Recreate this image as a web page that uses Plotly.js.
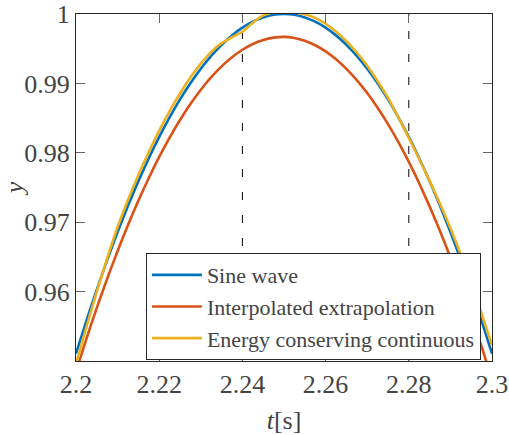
<!DOCTYPE html>
<html>
<head>
<meta charset="utf-8">
<script src="https://cdn.plot.ly/plotly-3.0.1.min.js"></script>
<style>
  html, body { margin: 0; padding: 0; background: #ffffff; }
  #chart { width: 509px; height: 435px; }
</style>
</head>
<body>
<div id="chart"></div>
<script>
// time samples [s]
const time = [
  2.2000, 2.2025, 2.2050, 2.2075, 2.2100, 2.2125, 2.2150, 2.2175, 2.2200, 2.2225,
  2.2250, 2.2275, 2.2300, 2.2325, 2.2350, 2.2375, 2.2400, 2.2425, 2.2450, 2.2475,
  2.2500, 2.2525, 2.2550, 2.2575, 2.2600, 2.2625, 2.2650, 2.2675, 2.2700, 2.2725,
  2.2750, 2.2775, 2.2800, 2.2825, 2.2850, 2.2875, 2.2900, 2.2925, 2.2950, 2.2975,
  2.3000
];

// Sine wave
const sineWave = [
  0.95106, 0.95579, 0.96029, 0.96456, 0.96858, 0.97237, 0.97592, 0.97922, 0.98229, 0.98511,
  0.98769, 0.99002, 0.99211, 0.99396, 0.99556, 0.99692, 0.99803, 0.99889, 0.99951, 0.99988,
  1.00000, 0.99988, 0.99951, 0.99889, 0.99803, 0.99692, 0.99556, 0.99396, 0.99211, 0.99002,
  0.98769, 0.98511, 0.98229, 0.97922, 0.97592, 0.97237, 0.96858, 0.96456, 0.96029, 0.95579,
  0.95106
];

// Interpolated extrapolation
const interpExtrap = [
  0.94849, 0.95318, 0.95765, 0.96187, 0.96585, 0.96960, 0.97311, 0.97637, 0.97940, 0.98218,
  0.98472, 0.98702, 0.98908, 0.99089, 0.99246, 0.99377, 0.99485, 0.99568, 0.99626, 0.99660,
  0.99670, 0.99655, 0.99615, 0.99550, 0.99462, 0.99348, 0.99210, 0.99047, 0.98861, 0.98649,
  0.98413, 0.98153, 0.97869, 0.97561, 0.97228, 0.96872, 0.96492, 0.96088, 0.95660, 0.95209,
  0.94733
];

// Energy conserving continuous
const energyCons = [
  0.94960, 0.95490, 0.96000, 0.96480, 0.96930, 0.97320, 0.97680, 0.98010, 0.98320, 0.98600,
  0.98855, 0.99085, 0.99285, 0.99455, 0.99580, 0.99665, 0.99745, 0.99875, 0.99980, 1.00025,
  1.00035, 1.00025, 0.99995, 0.99945, 0.99860, 0.99748, 0.99610, 0.99445, 0.99255, 0.99035,
  0.98790, 0.98510, 0.98215, 0.97910, 0.97595, 0.97265, 0.96915, 0.96535, 0.96125, 0.95685,
  0.95225
];

const seriesNames = ['Sine wave', 'Interpolated extrapolation', 'Energy conserving continuous'];
const seriesColors = ['#0072BD', '#D95319', '#EDB120'];

// vertical dashed marker times
const markerTimes = [2.24, 2.28];

// tick labels
const xTickVals = [2.2, 2.22, 2.24, 2.26, 2.28, 2.3];
const xTickText = ['2.2', '2.22', '2.24', '2.26', '2.28', '2.3'];
const yTickVals = [0.96, 0.97, 0.98, 0.99, 1];
const yTickText = ['0.96', '0.97', '0.98', '0.99', '1'];

const seriesData = [sineWave, interpExtrap, energyCons];
const traces = seriesData.map((ys, i) => ({
  type: 'scatter',
  mode: 'lines',
  x: time,
  y: ys,
  name: seriesNames[i],
  line: { color: seriesColors[i], width: 2.6, shape: 'spline', smoothing: 0.6 }
}));

const shapes = markerTimes.map(t => ({
  type: 'line', xref: 'x', yref: 'paper',
  x0: t, x1: t, y0: 0, y1: 1,
  line: { color: '#000000', width: 1, dash: '8px,15px' },
  layer: 'below'
}));

const layout = {
  width: 509, height: 435,
  margin: { l: 76, r: 17, t: 14, b: 74 },
  paper_bgcolor: '#ffffff', plot_bgcolor: '#ffffff',
  showlegend: true,
  legend: {
    x: 0.168, y: 0.311, xanchor: 'left', yanchor: 'top',
    bgcolor: '#ffffff', bordercolor: '#262626', borderwidth: 1,
    font: { family: 'Liberation Serif', size: 22 },
    itemwidth: 50
  },
  xaxis: {
    range: [2.2, 2.3],
    tickmode: 'array', tickvals: xTickVals, ticktext: xTickText,
    ticks: 'inside', ticklen: 9, tickcolor: '#666666', tickwidth: 1,
    showline: true, linecolor: '#262626', linewidth: 1, mirror: 'ticks',
    showgrid: false, zeroline: false,
    tickfont: { family: 'Liberation Serif', size: 26 },
    title: { text: '<i>t</i>[s]', font: { family: 'Liberation Serif', size: 26 }, standoff: 14 }
  },
  yaxis: {
    range: [0.95, 1],
    tickmode: 'array', tickvals: yTickVals, ticktext: yTickText,
    ticks: 'inside', ticklen: 9, tickcolor: '#666666', tickwidth: 1,
    showline: true, linecolor: '#262626', linewidth: 1, mirror: 'ticks',
    showgrid: false, zeroline: false,
    tickfont: { family: 'Liberation Serif', size: 26 },
    title: { text: '<i>y</i>', font: { family: 'Liberation Serif', size: 26 }, standoff: 14 }
  },
  shapes: shapes
};

Plotly.newPlot('chart', traces, layout, { staticPlot: true });
</script>
</body>
</html>
